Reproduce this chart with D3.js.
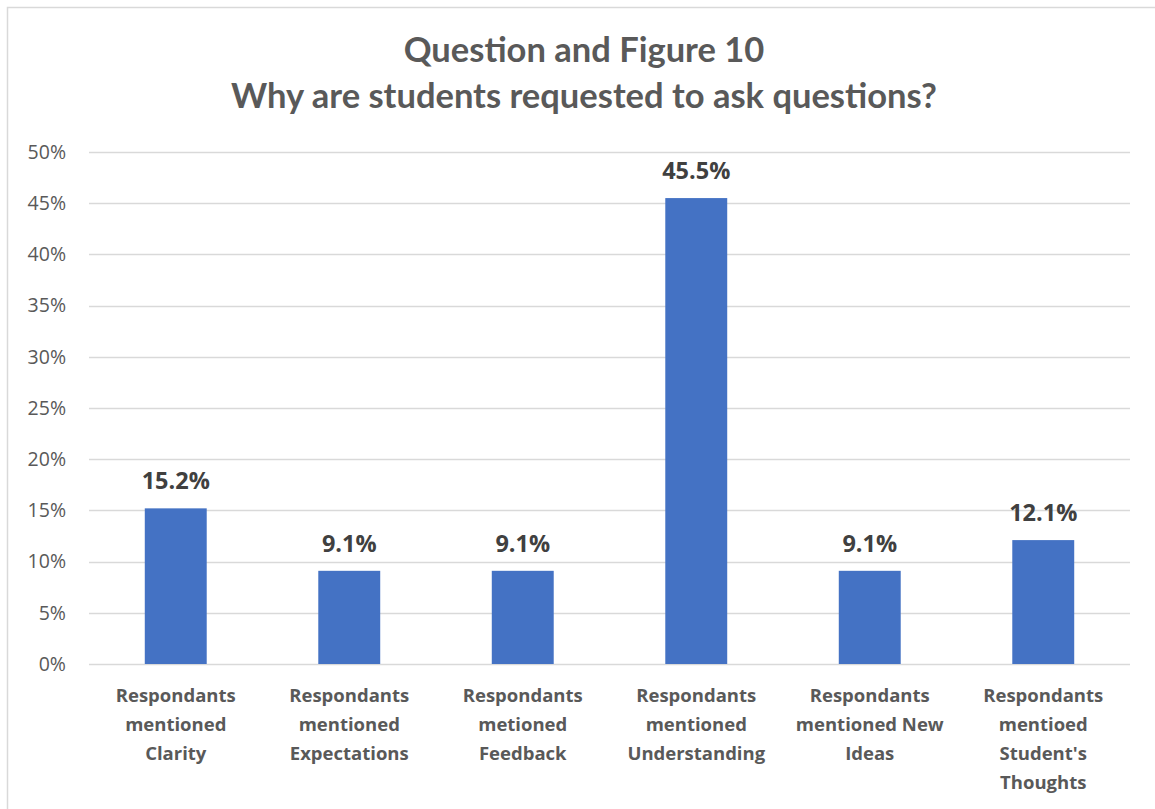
<!DOCTYPE html>
<html>
<head>
<meta charset="utf-8">
<script src="https://cdn.jsdelivr.net/npm/d3@7/dist/d3.min.js"></script>
<style>
  html, body { margin: 0; padding: 0; background: #ffffff; }
  svg { display: block; }
</style>
</head>
<body>
<script>
// Survey responses: why students are asked to pose questions
const titleLines = ["Question and Figure 10", "Why are students requested to ask questions?"];
const categories = [
  "Respondants mentioned Clarity",
  "Respondants mentioned Expectations",
  "Respondants metioned Feedback",
  "Respondants mentioned Understanding",
  "Respondants mentioned New Ideas",
  "Respondants mentioed Student's Thoughts"
];
const values = [15.2, 9.1, 9.1, 45.5, 9.1, 12.1];
const yTicks = [0, 5, 10, 15, 20, 25, 30, 35, 40, 45, 50];

const W = 1155, H = 809;
const margin = { left: 89, right: 25, top: 152, bottom: 145 };

const svg = d3.select("body").append("svg")
  .attr("width", W).attr("height", H);

// chart frame (extends past the lower-right edge)
svg.append("rect")
  .attr("x", 7.5).attr("y", 7.5)
  .attr("width", W + 20).attr("height", H + 20)
  .attr("fill", "#ffffff")
  .attr("stroke", "#d9d9d9").attr("stroke-width", 1.5);

// title
svg.append("g").selectAll("text")
  .data(titleLines)
  .join("text")
  .attr("x", 584)
  .attr("y", (d, i) => 62 + i * 46)
  .attr("text-anchor", "middle")
  .attr("font-family", "Lato, 'Open Sans', sans-serif")
  .attr("font-weight", 700)
  .attr("font-size", 34.5)
  .attr("fill", "#595959")
  .text(d => d);

const x = d3.scaleBand()
  .domain(categories)
  .range([margin.left, W - margin.right])
  .paddingInner(0.643)
  .paddingOuter(0.3215);

const y = d3.scaleLinear()
  .domain([0, 50])
  .range([H - margin.bottom, margin.top]);

// gridlines
svg.append("g").selectAll("line")
  .data(yTicks)
  .join("line")
  .attr("x1", margin.left).attr("x2", W - margin.right)
  .attr("y1", d => Math.round(y(d)) + 0.5).attr("y2", d => Math.round(y(d)) + 0.5)
  .attr("stroke", "#d9d9d9").attr("stroke-width", 1.5);

// y axis labels
const yAxis = d3.axisLeft(y)
  .tickValues(yTicks)
  .tickFormat(d => d + "%")
  .tickSize(0)
  .tickPadding(0);
const yg = svg.append("g")
  .attr("transform", `translate(66,0)`)
  .call(yAxis);
yg.select(".domain").remove();
yg.selectAll("text")
  .attr("font-family", "'Open Sans', sans-serif")
  .attr("font-size", 19.5)
  .attr("fill", "#595959");

// bars
svg.append("g").selectAll("rect")
  .data(values)
  .join("rect")
  .attr("x", (d, i) => x(categories[i]))
  .attr("width", x.bandwidth())
  .attr("y", d => y(d))
  .attr("height", d => y(0) - y(d))
  .attr("fill", "#4472c4");

// value labels
svg.append("g").selectAll("text")
  .data(values)
  .join("text")
  .attr("x", (d, i) => x(categories[i]) + x.bandwidth() / 2)
  .attr("y", d => y(d) - 19)
  .attr("text-anchor", "middle")
  .attr("font-family", "'Open Sans', sans-serif")
  .attr("font-weight", 700)
  .attr("font-size", 23.5)
  .attr("fill", "#404040")
  .text(d => d.toFixed(1) + "%");

// category labels, wrapped to the band
const xAxis = d3.axisBottom(x).tickSize(0).tickPadding(0);
const xg = svg.append("g")
  .attr("transform", `translate(0,${H - margin.bottom})`)
  .call(xAxis);
xg.select(".domain").remove();
xg.selectAll("text")
  .attr("font-family", "'Open Sans', sans-serif")
  .attr("font-weight", 700)
  .attr("font-size", 18.5)
  .attr("fill", "#595959")
  .attr("y", 0)
  .attr("dy", null)
  .each(function (d) {
    const t = d3.select(this);
    const words = d.split(" ");
    t.text(null);
    const maxW = 165, lh = 29, firstBaseline = 38;
    let lines = [], cur = [];
    const probe = t.append("tspan");
    words.forEach(w => {
      const trial = cur.concat(w).join(" ");
      probe.text(trial);
      if (cur.length && probe.node().getComputedTextLength() > maxW) {
        lines.push(cur.join(" "));
        cur = [w];
      } else {
        cur.push(w);
      }
    });
    lines.push(cur.join(" "));
    probe.remove();
    lines.forEach((ln, i) => {
      t.append("tspan")
        .attr("x", 0)
        .attr("y", firstBaseline + i * lh)
        .text(ln);
    });
  });
</script>
</body>
</html>
